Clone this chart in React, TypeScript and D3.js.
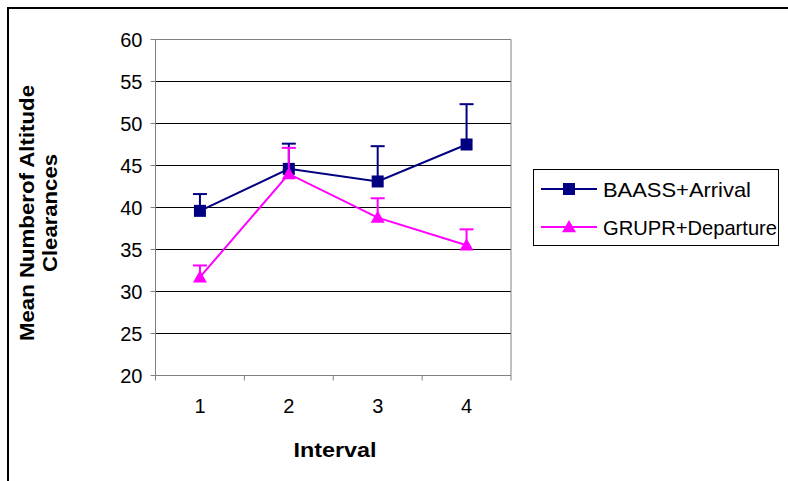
import React from "react";
import * as d3 from "d3";

const intervals = ["1", "2", "3", "4"];
const baassMeans = [39.6, 44.6, 43.1, 47.5];
const baassErr = [2.0, 3.0, 4.2, 4.8];
const gruprMeans = [31.7, 44.0, 38.8, 35.5];
const gruprErr = [1.4, 3.1, 2.3, 1.9];
const yTicks = [20, 25, 30, 35, 40, 45, 50, 55, 60];

const W = 788, H = 481;
const left = 155.5, right = 511, top = 39.5, bottom = 375.5;

export default function App() {
  const x = d3.scaleBand().domain(intervals).range([left, right]).padding(0);
  const y = d3.scaleLinear().domain([20, 60]).range([bottom, top]);
  const cx = (i: number) => (x(intervals[i]) as number) + x.bandwidth() / 2;
  const line = d3.line<number>().x((_, i) => cx(i)).y((d) => y(d));
  const navy = "#000080";
  const mag = "#FF00FF";
  const font = "Liberation Sans, Arial, sans-serif";
  const tri = (px: number, py: number, s: number) =>
    `M${px},${py - s} L${px + s},${py + s * 0.75} L${px - s},${py + s * 0.75} Z`;
  const series = [
    { name: "BAASS+Arrival", vals: baassMeans, err: baassErr, color: navy, m: "sq", tl: 148 },
    { name: "GRUPR+Departure", vals: gruprMeans, err: gruprErr, color: mag, m: "tri", tl: 174 },
  ];
  const tickXs = [...intervals.map((d) => x(d) as number), right];
  return (
    <svg width={W} height={H} style={{ position: "absolute", left: 0, top: 0 }}>
      <rect x={0} y={0} width={W} height={H} fill="#fff" />
      <rect x={8} y={8} width={W + 10} height={H + 10} fill="none" stroke="#000" strokeWidth={2} />
      {yTicks.map((t) => (
        <g key={t}>
          {t !== 20 && t !== 60 && (
            <line x1={left} x2={right} y1={y(t)} y2={y(t)} stroke="#000" strokeWidth={1} />
          )}
          <line x1={left - 5} x2={left} y1={y(t)} y2={y(t)} stroke="#808080" />
          <text x={left - 13} y={y(t)} dy="0.36em" textAnchor="end" fontFamily={font} fontSize={20}>
            {t}
          </text>
        </g>
      ))}
      <line x1={left} x2={right} y1={top} y2={top} stroke="#808080" />
      <line x1={right} x2={right} y1={top} y2={bottom} stroke="#808080" />
      <line x1={left} x2={left} y1={top} y2={bottom} stroke="#808080" />
      <line x1={left} x2={right} y1={bottom} y2={bottom} stroke="#808080" />
      {tickXs.map((tx, i) => (
        <line key={i} x1={tx} x2={tx} y1={bottom} y2={bottom + 5} stroke="#808080" />
      ))}
      {intervals.map((d, i) => (
        <text key={d} x={cx(i)} y={413} textAnchor="middle" fontFamily={font} fontSize={20}>
          {d}
        </text>
      ))}
      <text x={335} y={457} textAnchor="middle" fontFamily={font} fontSize={21} fontWeight="bold"
        textLength={83} lengthAdjust="spacingAndGlyphs">
        Interval
      </text>
      <text
        transform="translate(34,213) rotate(-90)"
        textAnchor="middle"
        fontFamily={font}
        fontSize={20}
        fontWeight="bold"
      >
        <tspan x={0} y={0} textLength={256} lengthAdjust="spacingAndGlyphs">Mean Numberof Altitude</tspan>
        <tspan x={0} y={23} textLength={118} lengthAdjust="spacingAndGlyphs">Clearances</tspan>
      </text>
      {series.map((s) => (
        <g key={s.name}>
          {s.vals.map((v, i) => (
            <g key={i}>
              <line x1={cx(i)} x2={cx(i)} y1={y(v)} y2={y(v + s.err[i])} stroke={s.color} strokeWidth={2} />
              <line x1={cx(i) - 7} x2={cx(i) + 7} y1={y(v + s.err[i])} y2={y(v + s.err[i])} stroke={s.color} strokeWidth={2} />
            </g>
          ))}
          <path d={line(s.vals) as string} fill="none" stroke={s.color} strokeWidth={2} />
          {s.vals.map((v, i) =>
            s.m === "sq" ? (
              <rect key={i} x={cx(i) - 6} y={y(v) - 6} width={12} height={12} fill={s.color} />
            ) : (
              <path key={i} d={tri(cx(i), y(v), 7)} fill={s.color} />
            )
          )}
        </g>
      ))}
      <rect x={533.5} y={169.5} width={245} height={76} fill="#fff" stroke="#000" strokeWidth={1} />
      {series.map((s, k) => {
        const ly = 189 + k * 38;
        return (
          <g key={s.name}>
            <line x1={541} x2={597} y1={ly} y2={ly} stroke={s.color} strokeWidth={2} />
            {s.m === "sq" ? (
              <rect x={563} y={ly - 6} width={12} height={12} fill={s.color} />
            ) : (
              <path d={tri(569, ly, 7)} fill={s.color} />
            )}
            <text x={603} y={ly} dy="0.36em" fontFamily={font} fontSize={21}
              textLength={s.tl} lengthAdjust="spacingAndGlyphs">
              {s.name}
            </text>
          </g>
        );
      })}
    </svg>
  );
}
